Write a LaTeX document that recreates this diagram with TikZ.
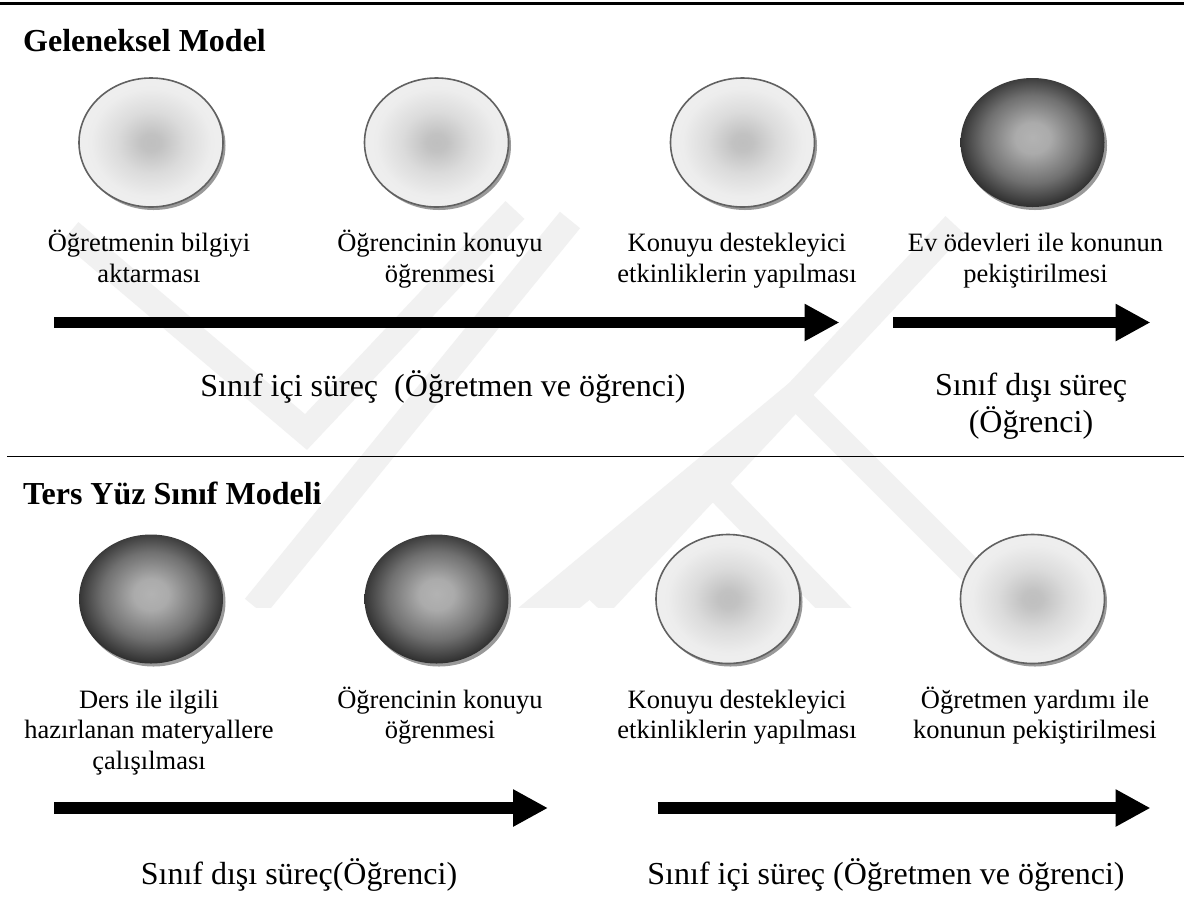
\documentclass[tikz,border=0pt]{standalone}
\usepackage{fontspec}
\setmainfont{Liberation Serif}
\usetikzlibrary{arrows.meta,shapes.geometric,shadows}
\newcommand\lblfont{\fontsize{26.5}{30.7}\selectfont}
\newcommand\prcfont{\fontsize{32}{37}\selectfont}
\newcommand\hdfont{\fontsize{32}{38}\selectfont\bfseries}
\pgfdeclareradialshading{lightball}{\pgfpoint{0bp}{0bp}}{color(0bp)=(black!25); color(3.5bp)=(black!24); color(12bp)=(black!14); color(21bp)=(black!7); color(35bp)=(black!5); color(50bp)=(black!5)}
\pgfdeclareradialshading{darkball}{\pgfpoint{0bp}{2bp}}{color(0bp)=(black!30); color(6bp)=(black!33); color(17bp)=(black!56); color(26bp)=(black!82); color(34bp)=(black!95); color(50bp)=(black)}
\definecolor{wm}{gray}{0.945}
\tikzset{
  ball/.style={ellipse, minimum width=144pt, minimum height=129pt, inner sep=0pt,
    drop shadow={shadow xshift=2.5pt, shadow yshift=-3pt, fill=black!40, opacity=1}},
  lightb/.style={ball, shading=lightball, draw=black!62, line width=1.6pt},
  darkb/.style={ball, shading=darkball},
  lbl/.style={align=center, anchor=base, inner sep=0pt, font=\lblfont},
  prc/.style={align=center, anchor=base, inner sep=0pt, font=\prcfont},
  hd/.style={anchor=base west, inner sep=0pt, font=\hdfont},
  bigarrow/.style={line width=11.6pt, -{Triangle[length=35pt, width=35pt]}},
  rule/.style={line width=#1},
  band/.style={wm, line width=26pt, line cap=butt, line join=miter}
}
\begin{document}
\begin{tikzpicture}[x=1pt, y=-1pt]
\useasboundingbox (0,0) rectangle (1184,906);
\fill[white] (0,0) rectangle (1184,906);
% watermark
\begin{scope}
\clip (0,200) rectangle (1184,607);
\draw[band] (70,232) -- (306,432) -- (515,210);
\draw[band] (255,607) -- (570,220);
\draw[band] (520,640) -- (712,483) -- (850,625);
\draw[band] (597,607) -- (955,225);
\draw[band] (500,640) -- (795,395) -- (1040,640);
\end{scope}
% rules
\draw[rule=2.5pt] (0,3.5) -- (1184,3.5);
\draw[rule=1.8pt] (7,456.5) -- (1184,456.5);
% headings
\node[hd] (h1) at (23,51) {Geleneksel Model};
\node[hd] (h2) at (23,504) {Ters Yüz Sınıf Modeli};
% top row
\node[lightb] (g1) at (151,142.5) {};
\node[lightb] (g2) at (436.5,142.5) {};
\node[lightb] (g3) at (742.5,142.5) {};
\node[darkb]  (g4) at (1032.5,142.5) {};
\node[lbl] (gl1) at (149,282) {Öğretmenin bilgiyi\\aktarması};
\node[lbl] (gl2) at (440,282) {Öğrencinin konuyu\\öğrenmesi};
\node[lbl] (gl3) at (737,282) {Konuyu destekleyici\\etkinliklerin yapılması};
\node[lbl] (gl4) at (1035.5,282) {Ev ödevleri ile konunun\\pekiştirilmesi};
\coordinate (ga1s) at (54,322.5);
\coordinate (ga1e) at (839.5,322.5);
\coordinate (ga2s) at (893,322.5);
\coordinate (ga2e) at (1150.5,322.5);
\draw[bigarrow] (ga1s) -- (ga1e);
\draw[bigarrow] (ga2s) -- (ga2e);
\node[prc] (gp1) at (443,396) {Sınıf içi süreç\ \ (Öğretmen ve öğrenci)};
\node[prc] (gp2) at (1031,432) {Sınıf dışı süreç\\(Öğrenci)};
% bottom row
\node[darkb]  (t1) at (151,599) {};
\node[darkb]  (t2) at (436.5,599) {};
\node[lightb] (t3) at (728,599) {};
\node[lightb] (t4) at (1032.5,599) {};
\node[lbl] (tl1) at (149,769.4) {Ders ile ilgili\\hazırlanan materyallere\\çalışılması};
\node[lbl] (tl2) at (440,738.7) {Öğrencinin konuyu\\öğrenmesi};
\node[lbl] (tl3) at (737,738.7) {Konuyu destekleyici\\etkinliklerin yapılması};
\node[lbl] (tl4) at (1035,738.7) {Öğretmen yardımı ile\\konunun pekiştirilmesi};
\coordinate (ta1s) at (54,808);
\coordinate (ta1e) at (548,808);
\coordinate (ta2s) at (657.5,808);
\coordinate (ta2e) at (1150.5,808);
\draw[bigarrow] (ta1s) -- (ta1e);
\draw[bigarrow] (ta2s) -- (ta2e);
\node[prc] (tp1) at (299,884) {Sınıf dışı süreç(Öğrenci)};
\node[prc] (tp2) at (886,884) {Sınıf içi süreç (Öğretmen ve öğrenci)};
\end{tikzpicture}
\end{document}
